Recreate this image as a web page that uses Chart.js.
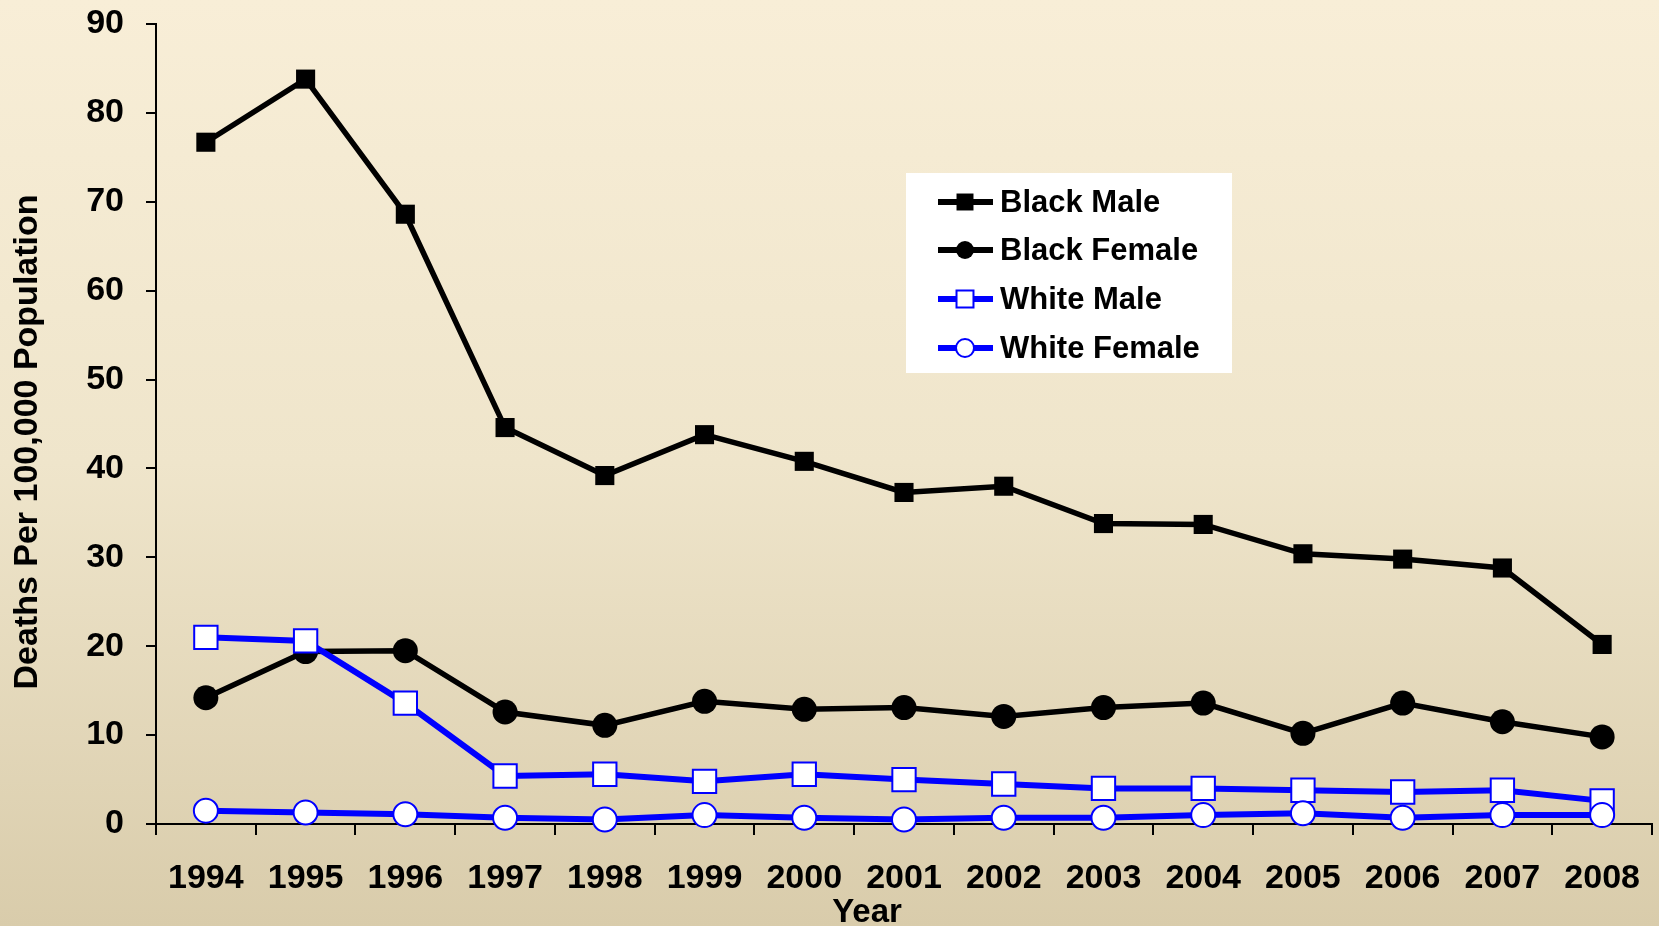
<!DOCTYPE html>
<html>
<head>
<meta charset="utf-8">
<script src="https://cdn.jsdelivr.net/npm/chart.js@4"></script>
<style>
  html, body { margin: 0; padding: 0; overflow: hidden; }
  #wrap { width: 1659px; height: 926px; }
</style>
</head>
<body>
<div id="wrap"><canvas id="grafica"></canvas></div>
<script>
// datos
const years = ['1994', '1995', '1996', '1997', '1998', '1999', '2000', '2001', '2002', '2003', '2004', '2005', '2006', '2007', '2008'];
const blackMale   = [76.7, 83.8, 68.6, 44.6, 39.2, 43.8, 40.8, 37.3, 38.0, 33.8, 33.7, 30.4, 29.8, 28.8, 20.2];
const blackFemale = [14.2, 19.4, 19.5, 12.6, 11.1, 13.8, 12.9, 13.1, 12.1, 13.1, 13.6, 10.2, 13.6, 11.5, 9.8];
const whiteMale   = [21.0, 20.6, 13.6, 5.4, 5.6, 4.8, 5.6, 5.0, 4.5, 4.0, 4.0, 3.8, 3.6, 3.8, 2.6];
const whiteFemale = [1.5, 1.3, 1.1, 0.7, 0.5, 1.0, 0.7, 0.5, 0.7, 0.7, 1.0, 1.2, 0.7, 1.0, 1.0];
const yTicks = [0, 10, 20, 30, 40, 50, 60, 70, 80, 90];
const xTitle = 'Year';
const yTitle = 'Deaths Per 100,000 Population';

const FONT = "'Liberation Sans', Arial, Helvetica, sans-serif";

// quita el relleno automatico que Chart.js calcula para las etiquetas
function sinRelleno(scale) {
    scale.paddingLeft = 0;
    scale.paddingRight = 0;
    scale.paddingTop = 0;
    scale.paddingBottom = 0;
}

// fondo degradado
const fondo = {
    id: 'fondo',
    beforeDraw(chart) {
        const { ctx, width, height } = chart;
        const g = ctx.createLinearGradient(0, 0, 0, height);
        g.addColorStop(0, '#F8EED7');
        g.addColorStop(0.5, '#EFE5CB');
        g.addColorStop(1, '#D9CCAB');
        ctx.save();
        ctx.fillStyle = g;
        ctx.fillRect(0, 0, width, height);
        ctx.restore();
    }
};

// leyenda dentro del grafico con caja blanca + titulos de los ejes
const leyenda = {
    id: 'leyenda',
    afterDraw(chart) {
        const ctx = chart.ctx;
        const box = { x: 906, y: 173, w: 326, h: 200 };
        ctx.save();
        ctx.fillStyle = '#FFFFFF';
        ctx.fillRect(box.x, box.y, box.w, box.h);
        const filas = [202, 250, 299, 348];
        chart.data.datasets.forEach((ds, i) => {
            const y = filas[i];
            ctx.strokeStyle = ds.borderColor;
            ctx.lineWidth = 6;
            ctx.beginPath();
            ctx.moveTo(938, y);
            ctx.lineTo(993, y);
            ctx.stroke();
            ctx.fillStyle = ds.pointBackgroundColor;
            ctx.strokeStyle = ds.pointBorderColor;
            ctx.lineWidth = ds.pointBorderWidth;
            Chart.helpers.drawPoint(ctx, {
                pointStyle: ds.pointStyle,
                radius: ds.pointStyle === 'rect' ? 12 : 9,
                rotation: 0,
                borderWidth: ds.pointBorderWidth
            }, 965, y);
            ctx.fillStyle = '#000000';
            ctx.font = 'bold 31px ' + FONT;
            ctx.textBaseline = 'middle';
            ctx.textAlign = 'left';
            ctx.fillText(ds.label, 1000, y + 1);
        });
        // titulo eje x (algo a la izquierda del centro, como en el original)
        ctx.fillStyle = '#000000';
        ctx.font = 'bold 33px ' + FONT;
        ctx.textAlign = 'center';
        ctx.textBaseline = 'alphabetic';
        ctx.fillText(xTitle, 867, 922);
        // titulo eje y, girado
        ctx.translate(28, 442);
        ctx.rotate(-Math.PI / 2);
        ctx.font = 'bold 34px ' + FONT;
        ctx.textBaseline = 'middle';
        ctx.fillText(yTitle, 0, 0);
        ctx.restore();
    }
};

const ctx = document.getElementById('grafica').getContext('2d');
new Chart(ctx, {
    type: 'line',
    data: {
        labels: years,
        datasets: [
            {
                label: 'Black Male',
                data: blackMale,
                borderColor: '#000000',
                borderWidth: 5.5,
                pointStyle: 'rect',
                pointRadius: 13.5,
                pointBackgroundColor: '#000000',
                pointBorderColor: '#000000',
                pointBorderWidth: 0,
                order: 2
            },
            {
                label: 'Black Female',
                data: blackFemale,
                borderColor: '#000000',
                borderWidth: 5.5,
                pointStyle: 'circle',
                pointRadius: 12.5,
                pointBackgroundColor: '#000000',
                pointBorderColor: '#000000',
                pointBorderWidth: 0,
                order: 2
            },
            {
                label: 'White Male',
                data: whiteMale,
                borderColor: '#0000FF',
                borderWidth: 6,
                pointStyle: 'rect',
                pointRadius: 16.5,
                pointBackgroundColor: '#FFFFFF',
                pointBorderColor: '#0000FF',
                pointBorderWidth: 2,
                order: 1
            },
            {
                label: 'White Female',
                data: whiteFemale,
                borderColor: '#0000FF',
                borderWidth: 6,
                pointStyle: 'circle',
                pointRadius: 12,
                pointBackgroundColor: '#FFFFFF',
                pointBorderColor: '#0000FF',
                pointBorderWidth: 2,
                order: 0
            }
        ]
    },
    options: {
        responsive: true,
        maintainAspectRatio: false,
        animation: false,
        clip: false,
        layout: { autoPadding: false, padding: { top: 24, right: 7, left: 0, bottom: 0 } },
        plugins: {
            legend: { display: false },
            tooltip: { enabled: false },
            title: { display: false }
        },
        elements: { line: { tension: 0 } },
        scales: {
            x: {
                offset: true,
                grid: {
                    offset: true,
                    drawOnChartArea: false,
                    drawTicks: true,
                    // marca visible de 10px, el resto del largo separa las etiquetas
                    tickLength: 34,
                    tickBorderDash: [10, 60],
                    color: '#000000',
                    lineWidth: 2
                },
                border: { color: '#000000', width: 2 },
                ticks: {
                    color: '#000000',
                    padding: 0,
                    maxRotation: 0,
                    autoSkip: false,
                    font: { family: FONT, size: 34, weight: 'bold' }
                },
                afterFit(scale) {
                    scale.height = 102;
                    sinRelleno(scale);
                }
            },
            y: {
                min: 0,
                max: 90,
                afterBuildTicks(scale) { scale.ticks = yTicks.map(v => ({ value: v })); },
                grid: {
                    drawOnChartArea: false,
                    drawTicks: true,
                    tickLength: 10,
                    color: '#000000',
                    lineWidth: 2
                },
                border: { color: '#000000', width: 2 },
                ticks: {
                    color: '#000000',
                    padding: 22,
                    font: { family: FONT, size: 34, weight: 'bold' }
                },
                afterFit(scale) {
                    scale.width = 156;
                    sinRelleno(scale);
                }
            }
        }
    },
    plugins: [fondo, leyenda]
});
</script>
</body>
</html>
